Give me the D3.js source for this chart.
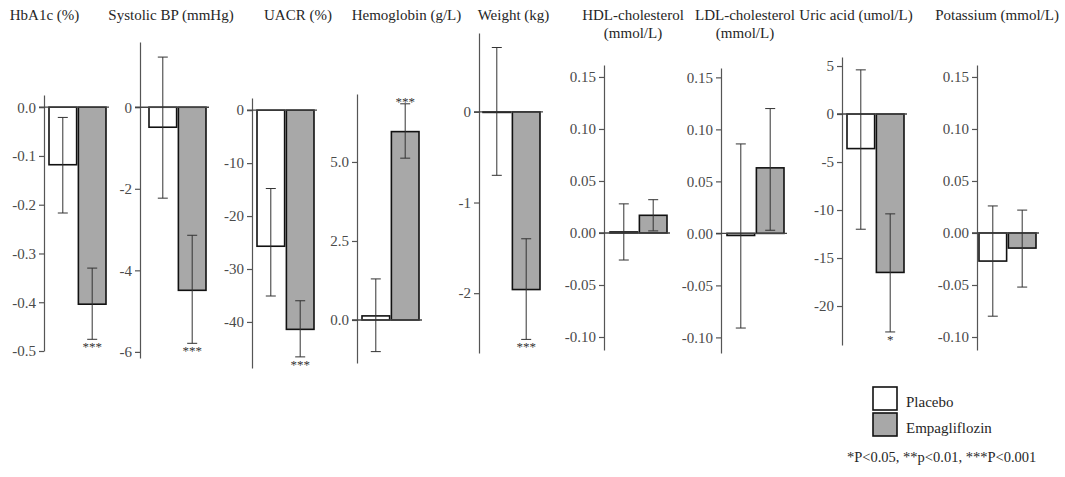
<!DOCTYPE html>
<html>
<head>
<meta charset="utf-8">
<script src="https://cdn.jsdelivr.net/npm/d3@7"></script>
<style>
  body { margin: 0; background: #fff; }
  svg { display: block; }
  svg text { font-family: "Liberation Serif", "Times New Roman", serif; }
</style>
</head>
<body>
<svg width="1065" height="477"></svg>
<script>
// valores
const titulos = [
  ["HbA1c (%)"], ["Systolic BP (mmHg)"], ["UACR (%)"], ["Hemoglobin (g/L)"], ["Weight (kg)"],
  ["HDL-cholesterol", "(mmol/L)"], ["LDL-cholesterol", "(mmol/L)"], ["Uric acid (umol/L)"], ["Potassium (mmol/L)"]
];
const grupos = ["Placebo", "Empagliflozin"];

const placeboMedia = [-0.118, -0.49, -25.7, 0.13, -0.006, 0.001, -0.002, -3.6, -0.027];
const placeboInf   = [-0.217, -2.23, -35.1, -1.0, -0.70, -0.026, -0.091, -12.0, -0.080];
const placeboSup   = [-0.021, 1.23, -14.8, 1.3, 0.71, 0.028, 0.086, 4.6, 0.026];

const empaMedia = [-0.404, -4.49, -41.4, 5.96, -1.96, 0.017, 0.063, -16.5, -0.0145];
const empaInf   = [-0.476, -5.79, -46.6, 5.12, -2.51, 0.002, 0.003, -22.7, -0.052];
const empaSup   = [-0.33, -3.14, -36.0, 6.84, -1.40, 0.032, 0.12, -10.4, 0.022];

const significancia = ["***", "***", "***", "***", "***", "", "", "*", ""];

const dominios = [
  [-0.5, 0.025], [-6.15, 1.6], [-48.7, 2.3], [-1.36, 7.15], [-2.66, 0.87],
  [-0.1125, 0.1615], [-0.115, 0.159], [-24.06, 5.94], [-0.1125, 0.1615]
];
const marcas = [
  [0, -0.1, -0.2, -0.3, -0.4, -0.5],
  [0, -2, -4, -6],
  [0, -10, -20, -30, -40],
  [0, 2.5, 5],
  [0, -1, -2],
  [0.15, 0.1, 0.05, 0, -0.05, -0.1],
  [0.15, 0.1, 0.05, 0, -0.05, -0.1],
  [5, 0, -5, -10, -15, -20],
  [0.15, 0.1, 0.05, 0, -0.05, -0.1]
];
const formatos = [".1f", "d", "d", ".1f", "d", ".2f", ".2f", "d", ".2f"];
const notaPie = "*P<0.05, **p<0.01, ***P<0.001";

// disposicion de cada panel (pixeles)
const ejeX     = [44, 140, 252, 357, 479, 604, 721, 842, 977];
const barraX   = [49, 149, 257, 362, 483, 610, 727, 847, 979];
const ejeArriba = [95, 42, 98, 94, 33, 65, 68, 57, 65];
const ejeAbajo  = [351, 358, 368, 363, 353, 350, 353, 345, 350];
const tituloX  = [44.5, 171, 298, 406.5, 513.5, 633, 745, 856, 997];

const locale = d3.formatLocale({ decimal: ".", thousands: ",", grouping: [3], currency: ["$", ""], minus: "-" });
const svg = d3.select("svg");
const colores = { Placebo: "#ffffff", Empagliflozin: "#a8a8a8" };

titulos.forEach((tit, i) => {
  const g = svg.append("g");

  const y = d3.scaleLinear().domain(dominios[i]).range([ejeAbajo[i], ejeArriba[i]]);
  const x = d3.scaleBand().domain(grupos).range([barraX[i], barraX[i] + 57]).paddingInner(0.06);

  // titulo
  tit.forEach((linea, k) => {
    g.append("text")
      .attr("x", tituloX[i])
      .attr("y", 20 + k * 18)
      .attr("text-anchor", "middle")
      .attr("font-size", 15)
      .attr("fill", "#262626")
      .text(linea);
  });

  // eje
  const eje = g.append("g")
    .attr("transform", `translate(${ejeX[i]},0)`)
    .call(d3.axisLeft(y).tickValues(marcas[i]).tickSize(5).tickSizeOuter(0).tickPadding(3)
      .tickFormat(locale.format(formatos[i])));
  eje.attr("font-family", null).attr("font-size", 15);
  eje.select(".domain").attr("stroke", "#555").attr("stroke-width", 1.2);
  eje.selectAll(".tick line").attr("stroke", "#555").attr("stroke-width", 1.2);
  eje.selectAll(".tick text").attr("fill", "#4a4a4a");

  const filas = [
    { grupo: "Placebo", media: placeboMedia[i], inf: placeboInf[i], sup: placeboSup[i], sig: "" },
    { grupo: "Empagliflozin", media: empaMedia[i], inf: empaInf[i], sup: empaSup[i], sig: significancia[i] }
  ];

  // barras
  g.selectAll(".barra")
    .data(filas)
    .enter()
    .append("rect")
    .attr("class", "barra")
    .attr("x", d => x(d.grupo))
    .attr("width", x.bandwidth())
    .attr("y", d => Math.min(y(d.media), y(0)))
    .attr("height", d => Math.abs(y(d.media) - y(0)))
    .attr("fill", d => colores[d.grupo])
    .attr("stroke", "#111")
    .attr("stroke-width", 1.6);

  // linea del cero
  g.append("line")
    .attr("x1", ejeX[i] - 5)
    .attr("x2", x.range()[1] + 3)
    .attr("y1", y(0))
    .attr("y2", y(0))
    .attr("stroke", "#444")
    .attr("stroke-width", 1.3);

  // barras de error
  const err = g.selectAll(".error")
    .data(filas)
    .enter()
    .append("g")
    .attr("class", "error")
    .attr("stroke", "#333")
    .attr("stroke-width", 1);
  const cx = d => x(d.grupo) + x.bandwidth() / 2;
  err.append("line")
    .attr("x1", cx).attr("x2", cx)
    .attr("y1", d => y(d.sup)).attr("y2", d => y(d.inf));
  err.append("line")
    .attr("x1", d => cx(d) - 5).attr("x2", d => cx(d) + 5)
    .attr("y1", d => y(d.sup)).attr("y2", d => y(d.sup));
  err.append("line")
    .attr("x1", d => cx(d) - 5).attr("x2", d => cx(d) + 5)
    .attr("y1", d => y(d.inf)).attr("y2", d => y(d.inf));

  // asteriscos
  g.selectAll(".sig")
    .data(filas.filter(d => d.sig))
    .enter()
    .append("text")
    .attr("class", "sig")
    .attr("x", cx)
    .attr("y", d => d.media < 0 ? y(d.inf) + 12 : y(d.sup) + 2.5)
    .attr("text-anchor", "middle")
    .attr("font-size", 13)
    .attr("fill", "#333")
    .text(d => d.sig);
});

// leyenda
const leyenda = svg.append("g").attr("transform", "translate(873,387)");
grupos.forEach((gr, k) => {
  leyenda.append("rect")
    .attr("x", 0).attr("y", k * 26)
    .attr("width", 24).attr("height", 23)
    .attr("fill", colores[gr])
    .attr("stroke", "#111")
    .attr("stroke-width", 1.6);
  leyenda.append("text")
    .attr("x", 33).attr("y", k * 26 + 20)
    .attr("font-size", 15)
    .attr("fill", "#262626")
    .text(gr);
});

svg.append("text")
  .attr("x", 847).attr("y", 462)
  .attr("font-size", 14.5)
  .attr("fill", "#262626")
  .text(notaPie);
</script>
</body>
</html>
